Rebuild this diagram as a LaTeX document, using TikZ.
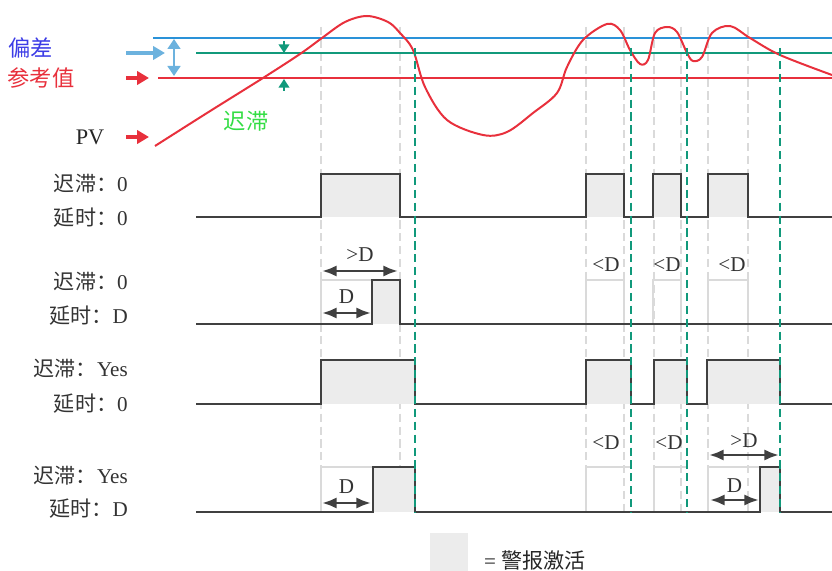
\documentclass[tikz,border=0pt]{standalone}
\usepackage{fontspec}
\setmainfont{Liberation Serif}
\newfontfamily\cjk{Noto Sans CJK SC}
\usetikzlibrary{arrows.meta}

\definecolor{pvred}{HTML}{E8303C}
\definecolor{devblue}{HTML}{2A92D8}
\definecolor{ptrblue}{HTML}{6CB2DE}
\definecolor{hysgreen}{HTML}{11997B}
\definecolor{labblue}{HTML}{3C3CE6}
\definecolor{labgreen}{HTML}{33DD44}
\definecolor{wavegray}{HTML}{404040}
\definecolor{actfill}{HTML}{ECECEC}
\definecolor{ghost}{HTML}{DADADA}

\begin{document}
\begin{tikzpicture}[x=0.03cm,y=-0.03cm,>=Latex,
wave/.style={draw=wavegray,line width=1.7pt},
active/.style={fill=actfill},
ghostbox/.style={draw=ghost,line width=1.3pt},
guide/.style={draw=ghost,dash pattern=on 7pt off 4pt,line width=1.4pt},
release/.style={draw=hysgreen,dash pattern=on 7pt off 4pt,line width=1.7pt},
dim/.style={{Latex[length=4.4mm,width=3.4mm]}-{Latex[length=4.4mm,width=3.4mm]},draw=wavegray,line width=2.4pt},
pointer/.style={-{Triangle[length=3.6mm,width=4mm]},line width=3pt},
level/.style={line width=1.7pt},
row label/.style={anchor=east,inner sep=0pt,font=\fontsize{18}{20}\selectfont,text=black!80},
dim label/.style={inner sep=0pt,font=\fontsize{18}{20}\selectfont,text=black!80}]
\useasboundingbox (0,0) rectangle (832,571);

% guides behind everything
\foreach \x in {321,400,586,624,654,681,708,748}
  \draw[guide] (\x,27) -- (\x,512);

% levels and PV
\draw[level,devblue] (153,38) -- (832,38);
\draw[level,hysgreen] (196,53) -- (832,53);
\draw[level,pvred] (158,78) -- (832,78);
\draw[pvred,line width=1.7pt] plot[smooth,tension=0.55] coordinates {(155,146) (207,113) (263,78) (300,54) (322,38) (345,22) (367,16) (388,22) (400,33) (413,50) (425,87) (447,120) (483,135) (507,132) (533,113) (557,93) (567,67) (583,40) (607,24) (620,30) (630,50) (640,64) (648,60) (655,33) (667,27) (677,32) (687,53) (693,61) (702,57) (712,33) (730,26) (750,38) (780,55) (832,75)};

\node[text=labblue,font=\fontsize{19}{21}\selectfont\cjk] (dev) at (31,48) {偏差};
\node[text=pvred,font=\fontsize{19}{21}\selectfont\cjk] (ref) at (41,78) {参考值};
\node[text=black!85,font=\fontsize{19}{21}\selectfont] (pv) at (90,137) {PV};
\node[text=labgreen,font=\fontsize{19}{21}\selectfont\cjk] (hys) at (246,121) {迟滞};

\coordinate (pd) at (126,53);  \coordinate (pd') at (165,53);
\coordinate (pr) at (126,78);  \coordinate (pr') at (149,78);
\coordinate (pp) at (126,137); \coordinate (pp') at (149,137);
\draw[pointer,ptrblue] (pd) -- (pd');
\draw[pointer,pvred] (pr) -- (pr');
\draw[pointer,pvred] (pp) -- (pp');
\coordinate (db) at (174,39); \coordinate (db') at (174,76);
\draw[{Triangle[length=3mm,width=3.8mm]}-{Triangle[length=3mm,width=3.8mm]},ptrblue,line width=2.4pt] (db) -- (db');
\coordinate (hu) at (284,41); \coordinate (hu') at (284,53);
\coordinate (hl) at (284,91); \coordinate (hl') at (284,79);
\draw[-{Triangle[length=2.6mm,width=3.2mm]},hysgreen,line width=1.6pt] (hu) -- (hu');
\draw[-{Triangle[length=2.6mm,width=3.2mm]},hysgreen,line width=1.6pt] (hl) -- (hl');

% row 1: hysteresis 0, delay 0
\node[row label] (r1a) at (128,184) {{\cjk 迟滞：}0};
\node[row label] (r1b) at (128,218) {{\cjk 延时：}0};
\fill[active] (321,174) rectangle (400,217) (586,174) rectangle (624,217)
  (653,174) rectangle (681,217) (708,174) rectangle (748,217);
\draw[wave] (196,217) -| (321,174) -| (400,217) -| (586,174) -| (624,217) -| (653,174) -| (681,217) -| (708,174) -| (748,217) -- (832,217);

% row 2: hysteresis 0, delay D
\node[row label] (r2a) at (128,282) {{\cjk 迟滞：}0};
\node[row label] (r2b) at (128,316) {{\cjk 延时：}D};
\draw[ghostbox] (321,324) |- (372,280);
\draw[ghostbox] (586,324) |- (624,280) -- (624,324);
\draw[ghostbox] (653,324) |- (681,280) -- (681,324);
\draw[ghostbox] (708,324) |- (748,280) -- (748,324);
\fill[active] (372,280) rectangle (400,324);
\draw[wave] (196,324) -| (372,280) -| (400,324) -- (832,324);
\coordinate (a1) at (322,271); \coordinate (a1') at (398,271);
\coordinate (a2) at (322,313); \coordinate (a2') at (371,313);
\draw[dim] (a1) -- node[dim label,above=7pt] (gt1) {>D} (a1');
\draw[dim] (a2) -- node[dim label,above=7pt] (d1) {D} (a2');
\node[dim label] (lt1) at (606,265) {<D};
\node[dim label] (lt2) at (667,265) {<D};
\node[dim label] (lt3) at (732,265) {<D};

% row 3: hysteresis yes, delay 0
\node[row label] (r3a) at (128,369) {{\cjk 迟滞：}Yes};
\node[row label] (r3b) at (128,404) {{\cjk 延时：}0};
\fill[active] (321,360) rectangle (415,404) (586,360) rectangle (631,404)
  (654,360) rectangle (687,404) (707,360) rectangle (780,404);
\draw[wave] (196,404) -| (321,360) -| (415,404) -| (586,360) -| (631,404) -| (654,360) -| (687,404) -| (707,360) -| (780,404) -- (832,404);

% row 4: hysteresis yes, delay D
\node[row label] (r4a) at (128,476) {{\cjk 迟滞：}Yes};
\node[row label] (r4b) at (128,509) {{\cjk 延时：}D};
\draw[ghostbox] (321,512) |- (373,467);
\draw[ghostbox] (586,512) |- (631,467);
\draw[ghostbox] (654,512) |- (687,467);
\draw[ghostbox] (708,512) |- (760,467);
\fill[active] (373,467) rectangle (415,512) (760,467) rectangle (780,512);
\draw[wave] (196,512) -| (373,467) -| (415,512) -| (760,467) -| (780,512) -- (832,512);
\coordinate (a3) at (322,503); \coordinate (a3') at (371,503);
\coordinate (a4) at (709,455); \coordinate (a4') at (779,455);
\coordinate (a5) at (710,500); \coordinate (a5') at (759,500);
\draw[dim] (a3) -- node[dim label,above=7pt] (d2) {D} (a3');
\draw[dim] (a4) -- node[dim label,above=5pt] (gt2) {>D} (a4');
\draw[dim] (a5) -- node[dim label,above=5pt] (d3) {D} (a5');
\node[dim label] (lt4) at (606,443) {<D};
\node[dim label] (lt5) at (669,443) {<D};

% alarm release lines
\foreach \x in {415,631,687,780}
  \draw[release] (\x,48) -- (\x,512);

% legend
\fill[active] (430,533) rectangle (468,571);
\node[anchor=west,font=\fontsize{18}{20}\selectfont,text=black!85] (key) at (480,560) {= {\cjk 警报激活}};
\end{tikzpicture}
\end{document}
